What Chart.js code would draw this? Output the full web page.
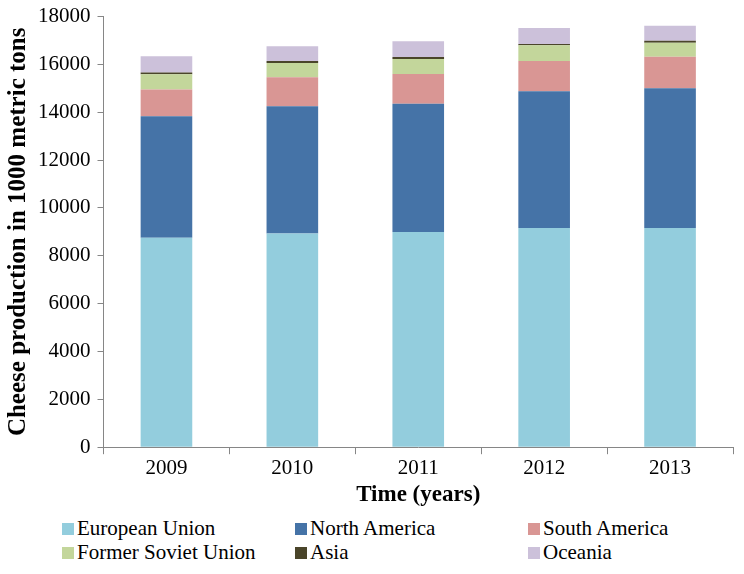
<!DOCTYPE html>
<html>
<head>
<meta charset="utf-8">
<script src="https://cdn.jsdelivr.net/npm/chart.js@4/dist/chart.umd.min.js"></script>
<style>
    body { margin: 0; background: #fff; }
    #wrap { position: relative; width: 744px; height: 574px; }
    #grafico { position: absolute; left: 0; top: 0; }
    #leyenda { position: absolute; left: 62px; top: 516px; width: 680px; font-family: "Liberation Serif", serif; font-size: 21px; color: #000; }
    .item { position: absolute; white-space: nowrap; line-height: 24px; }
    .caja { display: inline-block; width: 12px; height: 12px; margin-right: 3px; vertical-align: 0px; }
</style>
</head>
<body>
<div id="wrap">
    <canvas id="grafico" width="744" height="509"></canvas>
    <div id="leyenda"></div>
</div>
<script>
const anios = ['2009', '2010', '2011', '2012', '2013'];
const europa = [8750, 8930, 8990, 9160, 9160];
const norteAmerica = [5080, 5320, 5360, 5715, 5840];
const surAmerica = [1120, 1208, 1250, 1264, 1319];
const exSovietica = [633, 597, 625, 653, 584];
const asia = [80, 80, 80, 60, 83];
const oceania = [670, 615, 656, 667, 625];

const fuente = "'Liberation Serif', serif";
const colorEje = '#868686';

const ctx = document.getElementById('grafico');
const chart = new Chart(ctx, {
    type: 'bar',
    data: {
        labels: anios,
        datasets: [
            { label: 'European Union', data: europa, backgroundColor: '#93CDDD' },
            { label: 'North America', data: norteAmerica, backgroundColor: '#4573A7' },
            { label: 'South America', data: surAmerica, backgroundColor: '#D99694' },
            { label: 'Former Soviet Union', data: exSovietica, backgroundColor: '#C3D69B' },
            { label: 'Asia', data: asia, backgroundColor: '#4A452A' },
            { label: 'Oceania', data: oceania, backgroundColor: '#CCC1DA' }
        ]
    },
    options: {
        responsive: false,
        animation: false,
        layout: { padding: { left: 0, right: 11, top: 2, bottom: 0 } },
        datasets: { bar: { barPercentage: 0.41, categoryPercentage: 1 } },
        plugins: {
            legend: { display: false },
            tooltip: { enabled: false }
        },
        scales: {
            x: {
                stacked: true,
                grid: { drawOnChartArea: false, drawTicks: true, tickLength: 7, color: colorEje },
                border: { color: colorEje },
                ticks: { color: '#000', font: { family: fuente, size: 21 }, padding: 2 },
                title: { display: true, text: 'Time (years)', color: '#000', font: { family: fuente, size: 23, weight: 'bold' }, padding: { top: -2, bottom: 0 } }
            },
            y: {
                stacked: true,
                min: 0,
                max: 18000,
                grid: { drawOnChartArea: false, drawTicks: true, tickLength: 6, color: colorEje },
                border: { color: colorEje },
                ticks: {
                    stepSize: 2000, color: '#000', font: { family: fuente, size: 21, lineHeight: 0.9 }, padding: 7,
                    callback: function (v) { return String(v); }
                },
                title: { display: true, text: 'Cheese production in 1000 metric tons', color: '#000', font: { family: fuente, size: 25, weight: 'bold', lineHeight: 1 }, padding: { top: 6, bottom: 0 } }
            }
        }
    }
});

// leyenda en 3 columnas como en la figura original
const leyenda = document.getElementById('leyenda');
const columnas = [0, 233, 466];
chart.data.datasets.forEach(function (ds, i) {
    const div = document.createElement('div');
    div.className = 'item';
    div.style.left = columnas[i % 3] + 'px';
    div.style.top = (Math.floor(i / 3) * 24) + 'px';
    div.innerHTML = '<span class="caja" style="background:' + ds.backgroundColor + '"></span>' + ds.label;
    leyenda.appendChild(div);
});
</script>
</body>
</html>
